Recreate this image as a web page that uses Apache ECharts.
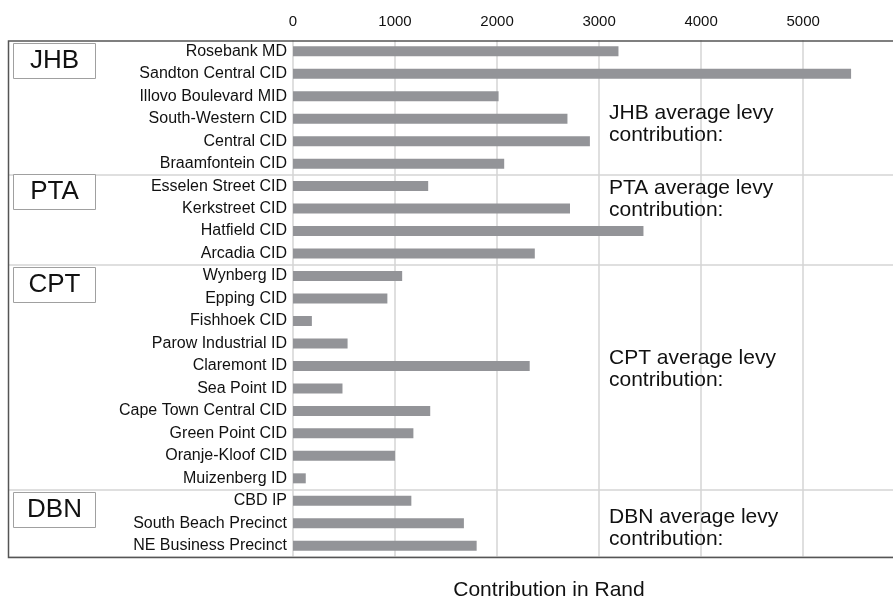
<!DOCTYPE html>
<html>
<head>
<meta charset="utf-8">
<script src="https://cdn.jsdelivr.net/npm/echarts@6/dist/echarts.min.js"></script>
<style>
  html, body { margin: 0; padding: 0; background: #fff; overflow: hidden; }
  /* a bit wider than the window so the gridline at the axis max falls off-screen */
  #chart { width: 905px; height: 598px; }
</style>
</head>
<body>
<div id="chart"></div>
<script>
// improvement districts, top to bottom
const districts = [
  'Rosebank MD', 'Sandton Central CID', 'Illovo Boulevard MID', 'South-Western CID',
  'Central CID', 'Braamfontein CID',
  'Esselen Street CID', 'Kerkstreet CID', 'Hatfield CID', 'Arcadia CID',
  'Wynberg ID', 'Epping CID', 'Fishhoek CID', 'Parow Industrial ID', 'Claremont ID',
  'Sea Point ID', 'Cape Town Central CID', 'Green Point CID', 'Oranje-Kloof CID', 'Muizenberg ID',
  'CBD IP', 'South Beach Precinct', 'NE Business Precinct'
];
const levy = [
  3190, 5470, 2015, 2690, 2910, 2070,
  1325, 2715, 3435, 2370,
  1070, 925, 185, 535, 2320, 485, 1345, 1180, 1000, 125,
  1160, 1675, 1800
];
const cities = ['JHB', 'PTA', 'CPT', 'DBN'];
const cityStart = [0, 6, 10, 20]; // index of first district in each city
const axisTitle = 'Contribution in Rand';

const chart = echarts.init(document.getElementById('chart'));

const font = 'Liberation Sans, Arial, Helvetica, sans-serif';
const gridTop = 40;
const gridBottom = 41;

// open frame: top, left and bottom edges only
const graphics = [{
  type: 'polyline',
  shape: { points: [[905, 41], [8.5, 41], [8.5, 557.5], [905, 557.5]] },
  style: { stroke: '#555', lineWidth: 1.5, fill: null },
  z: 12
}];

// group label boxes and average notes
const boxTops = [43, 174, 267, 492];
const noteTops = [102, 177, 347, 506];
cities.forEach((c, i) => {
  graphics.push({
    type: 'rect',
    shape: { x: 13.5, y: boxTops[i] + 0.5, width: 82, height: 35 },
    style: { fill: '#fff', stroke: '#a0a0a0', lineWidth: 1 },
    z: 10
  });
  graphics.push({
    type: 'text',
    x: 54.5, y: boxTops[i] + 18,
    style: {
      text: c, fontSize: 26, fontFamily: font, fill: '#111',
      align: 'center', verticalAlign: 'middle'
    },
    z: 11
  });
  graphics.push({
    type: 'text',
    x: 609, y: noteTops[i],
    style: {
      text: c + ' average levy\ncontribution:', fontSize: 21, lineHeight: 22,
      fontFamily: font, fill: '#111', align: 'left', verticalAlign: 'top'
    },
    z: 11
  });
});
graphics.push({
  type: 'text',
  x: 549, y: 590,
  style: {
    text: axisTitle, fontSize: 21, fontFamily: font, fill: '#111',
    align: 'center', verticalAlign: 'middle'
  }
});

const option = {
  animation: false,
  backgroundColor: '#fff',
  grid: [
    { left: 293, right: 8, top: gridTop, bottom: gridBottom, outerBoundsMode: 'none' },
    { left: 8, right: 0, top: gridTop, bottom: gridBottom, outerBoundsMode: 'none' }
  ],
  xAxis: [
    {
      type: 'value', gridIndex: 0, position: 'top',
      min: 0, max: 5920, interval: 1000,
      axisLine: { show: false },
      axisTick: { show: false },
      axisLabel: {
        margin: 11, fontSize: 15, fontFamily: font, color: '#111',
        showMaxLabel: false,
        formatter: v => (v % 1000 === 0 ? String(v) : '')
      },
      splitLine: { lineStyle: { color: '#d4d4d4', width: 1.5 } }
    },
    {
      type: 'value', gridIndex: 1, min: 0, max: 1, show: false
    }
  ],
  yAxis: [
    {
      type: 'category', gridIndex: 0, data: districts, inverse: true,
      axisLine: { show: false },
      axisTick: { show: false },
      axisLabel: { margin: 6, fontSize: 16, fontFamily: font, color: '#111' }
    },
    {
      // only used for the separators between cities
      type: 'category', gridIndex: 1, data: districts, inverse: true,
      axisLine: { show: false },
      axisTick: { show: false }, axisLabel: { show: false },
      splitLine: {
        show: true,
        interval: (idx) => cityStart.indexOf(idx) > 0,
        lineStyle: { color: '#d4d4d4', width: 1.5 }
      }
    }
  ],
  series: [
    {
      type: 'bar', xAxisIndex: 0, yAxisIndex: 0,
      data: levy, barWidth: 10,
      itemStyle: { color: '#939498' },
      z: 5
    }
  ],
  graphic: graphics
};

chart.setOption(option);
</script>
</body>
</html>
